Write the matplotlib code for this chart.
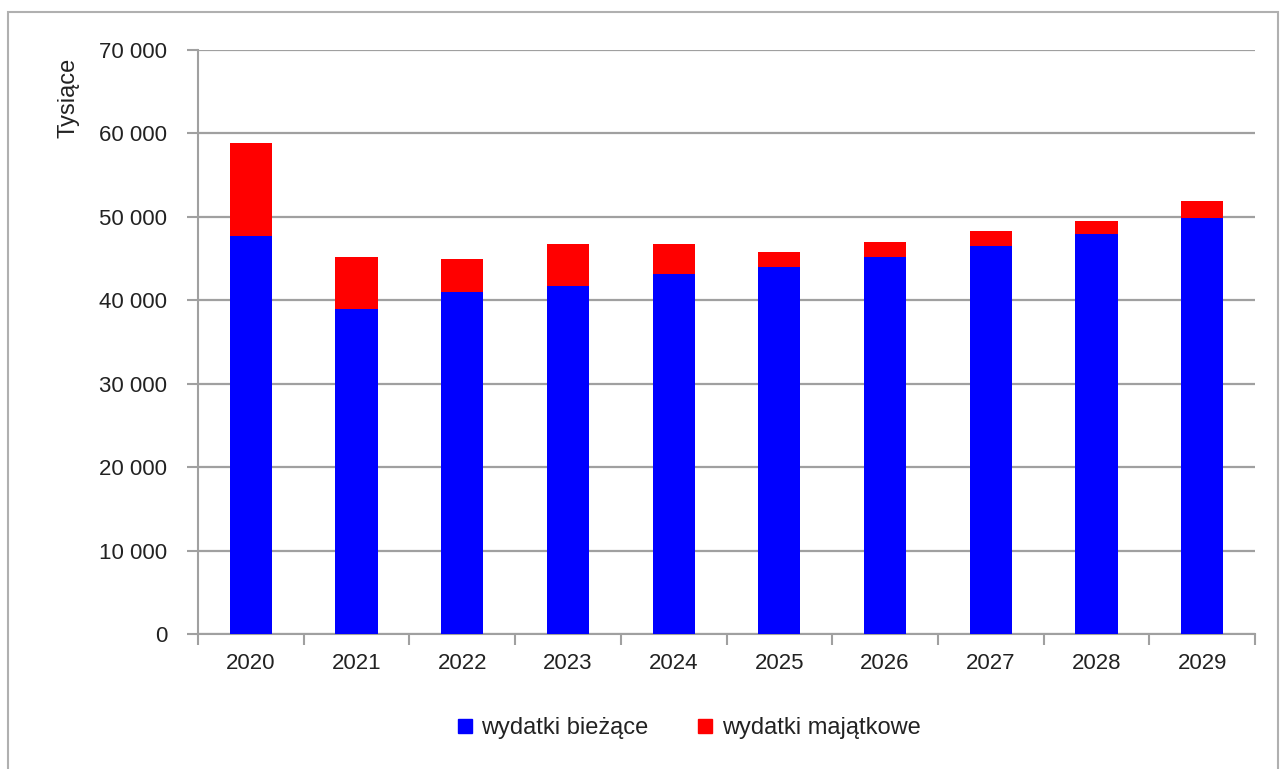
import matplotlib
matplotlib.use('Agg')
import matplotlib.pyplot as plt
from matplotlib.patches import Rectangle
from matplotlib.lines import Line2D
from matplotlib.ticker import FuncFormatter

years = ['2020', '2021', '2022', '2023', '2024', '2025', '2026', '2027', '2028', '2029']
biezace = [47700, 38900, 41000, 41700, 43100, 44000, 45200, 46500, 47900, 49900]
majatkowe = [11100, 6300, 4000, 5100, 3700, 1800, 1800, 1800, 1600, 2000]

plt.rcParams['font.family'] = ['Liberation Sans', 'DejaVu Sans']

fig = plt.figure(figsize=(12.85, 7.69), dpi=100)
ax = fig.add_axes([198 / 1285, 1 - 634 / 769, (1255 - 198) / 1285, (634 - 50) / 769])

x = range(len(years))
ax.bar(x, biezace, width=0.4, color='#0000ff', zorder=3)
ax.bar(x, majatkowe, bottom=biezace, width=0.4, color='#ff0000', zorder=3)

ax.set_xlim(-0.5, len(years) - 0.5)
ax.set_ylim(0, 70000)
ax.set_yticks(range(0, 70001, 10000))
ax.yaxis.set_major_formatter(FuncFormatter(lambda v, p: '{:,.0f}'.format(v).replace(',', ' ')))
ax.grid(axis='y', color='#a0a0a0', linewidth=1.6, zorder=0)

ax.set_xticks(list(x))
ax.set_xticklabels(years)
ax.set_xticks([i - 0.5 for i in range(len(years) + 1)], minor=True)
ax.tick_params(axis='x', which='major', length=0, pad=14, labelsize=16, colors='#222222')
ax.tick_params(axis='x', which='minor', length=8, width=1.5, color='#a0a0a0')
ax.tick_params(axis='y', length=8, width=1.5, color='#a0a0a0', labelsize=16,
               labelcolor='#222222', pad=14)

for s in ['top', 'right']:
    ax.spines[s].set_visible(False)
for s in ['left', 'bottom']:
    ax.spines[s].set_color('#a0a0a0')
    ax.spines[s].set_linewidth(1.5)

fig.text(69 / 1285, 1 - 98 / 769, 'Tysiące', rotation=90, ha='center', va='center',
         fontsize=17, color='#222222')

handles = [Line2D([], [], marker='s', linestyle='none', markersize=10, color='#0000ff'),
           Line2D([], [], marker='s', linestyle='none', markersize=10, color='#ff0000')]
fig.legend(handles, ['wydatki bieżące', 'wydatki majątkowe'], ncol=2, frameon=False,
           loc='center', bbox_to_anchor=(688 / 1285, 1 - 728 / 769), fontsize=17,
           handlelength=0.8, handletextpad=0.3, columnspacing=2.0, labelcolor='#222222')

fig.patches.append(Rectangle((8 / 1285, -0.01), 1270 / 1285, 1 - 12 / 769 + 0.01,
                             transform=fig.transFigure, fill=False,
                             edgecolor='#b0b0b0', linewidth=1.5))

fig.savefig('out.png', dpi=100)
